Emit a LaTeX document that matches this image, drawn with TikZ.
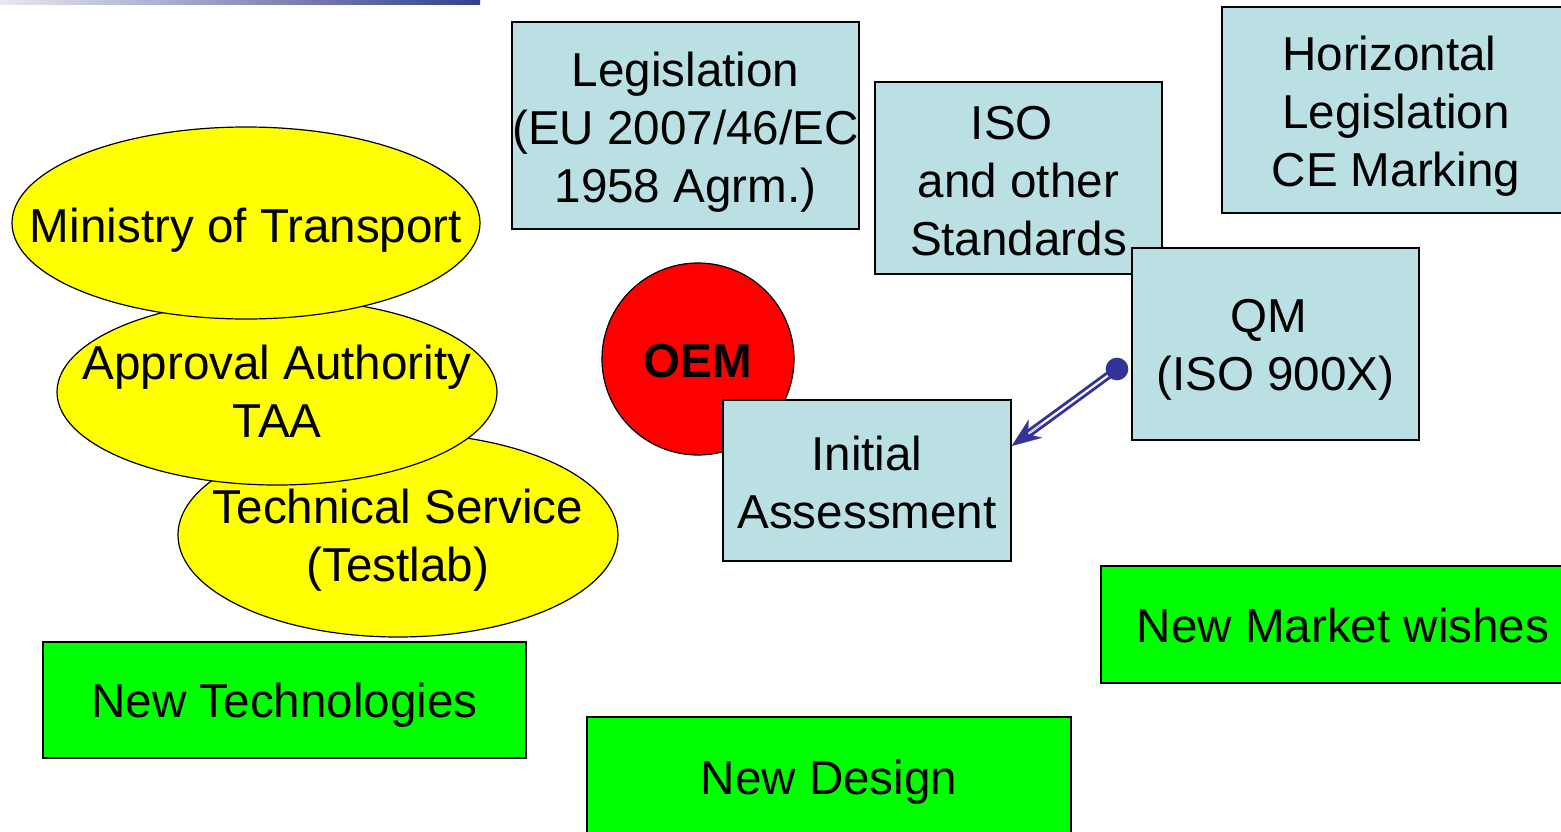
\documentclass[tikz,border=0pt]{standalone}
\usepackage{fontspec}
\setmainfont{Liberation Sans}
\usetikzlibrary{arrows.meta,calc}
\definecolor{boxcyan}{HTML}{BBE0E3}
\definecolor{arrblue}{HTML}{333399}
\definecolor{barL}{HTML}{E8E8F0}
\definecolor{barR}{HTML}{333F8A}
\definecolor{ylw}{HTML}{FFFF00}
\definecolor{grn}{HTML}{00FF00}
\definecolor{rd}{HTML}{FF0000}
\tikzset{
  txt/.style={font=\fontsize{35.7}{43.5}\selectfont, align=center, inner sep=0pt},
  cyanbox/.style={draw=black, line width=1.1pt, fill=boxcyan, rectangle, inner sep=0pt},
  greenbox/.style={draw=black, line width=1.1pt, fill=grn, rectangle, inner sep=0pt},
  yellowell/.style={draw=black, line width=0.9pt, fill=ylw},
}
\begin{document}
\begin{tikzpicture}[x=0.75pt,y=-0.75pt]
\useasboundingbox (0,0) rectangle (1561,832);
\clip (0,0) rectangle (1561,832);
% top bar
\shade[left color=barL, right color=barR] (0,0) rectangle (480,4);
% ellipses (bottom first)
\draw[yellowell] (398,535) ellipse [x radius=220, y radius=102];
\draw[yellowell] (277,392) ellipse [x radius=220, y radius=93];
\draw[yellowell] (246,223) ellipse [x radius=234, y radius=96];
\node[txt] (mot) at (246,230) {Ministry of Transport};
\node[txt] (aa) at (277,391) {Approval Authority\\TAA};
\node[txt] (ts) at (398,540) {Technical Service\\(Testlab)};
% green boxes
\node[greenbox, minimum width=483*0.75pt, minimum height=116*0.75pt] (nt) at (284.5,700) {};
\node[txt] (ntt) at (284.5,705) {New Technologies};
\node[greenbox, minimum width=484*0.75pt, minimum height=120*0.75pt] (nd) at (829,777) {};
\node[txt] (ndt) at (829,782) {New Design};
\node[greenbox, minimum width=484*0.75pt, minimum height=117*0.75pt] (nm) at (1343,624.5) {};
\node[txt] (nmt) at (1343,625.5) {New Market wishes};
% cyan boxes
\node[cyanbox, minimum width=347*0.75pt, minimum height=207*0.75pt] (leg) at (685.5,125.5) {};
\node[txt] (legt) at (685.5,132) {Legislation\\(EU 2007/46/EC\\1958 Agrm.)};
\node[cyanbox, minimum width=287*0.75pt, minimum height=192*0.75pt] (iso) at (1018.5,178) {};
\node[txt] (isot) at (1018.5,181) {ISO\hspace*{0.278em}\\and other\\Standards};
\node[cyanbox, minimum width=346*0.75pt, minimum height=206*0.75pt] (hor) at (1395,110) {};
\node[txt] (hort) at (1396,116) {Horizontal\hspace*{0.278em}\\Legislation\\CE Marking};
\node[cyanbox, minimum width=287*0.75pt, minimum height=192*0.75pt] (qm) at (1275.5,344) {};
\node[txt] (qmt) at (1275.5,350) {QM\hspace*{0.278em}\\(ISO 900X)};
% OEM
\node[circle, draw=black, line width=0.9pt, fill=rd, minimum size=192*0.75pt, inner sep=0pt] (oem) at (698,359) {};
\node[txt, font=\fontsize{35.7}{43.5}\selectfont\bfseries] (oemt) at (698,361) {OEM};
\node[cyanbox, minimum width=288*0.75pt, minimum height=161*0.75pt] (ia) at (867,480.5) {};
\node[txt] (iat) at (867,482.5) {Initial\\Assessment};
% arrow
\coordinate (dot) at (1117,369);
\coordinate (tip) at ([yshift=-35pt]ia.north east);
\draw[arrblue, line width=2.2pt, double=white, double distance=1.6pt, shorten >=13pt] (dot) -- (tip);
\draw[arrblue, line width=0.1pt, -{Stealth[length=22pt, width=17pt, inset=7pt]}] ($(dot)!0.72!(tip)$) -- (tip);
\fill[arrblue] (dot) circle (8.5pt);
\end{tikzpicture}
\end{document}
